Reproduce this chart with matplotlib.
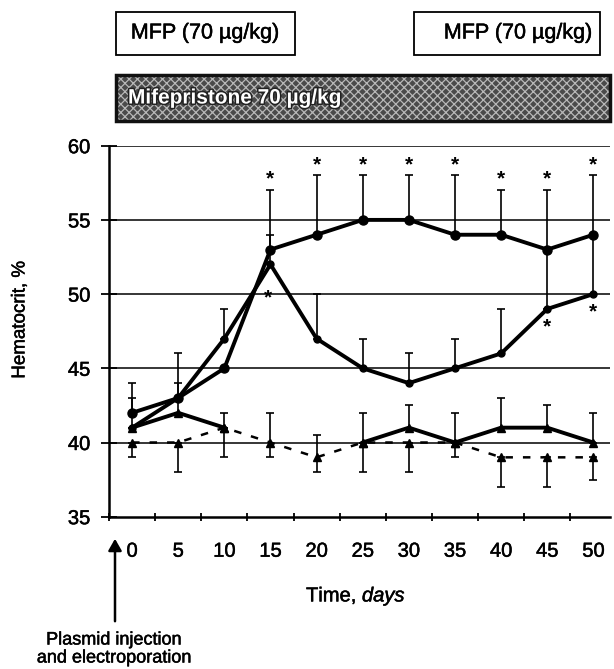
import numpy as np
import matplotlib
matplotlib.use("Agg")
import matplotlib.pyplot as plt
from matplotlib.patches import Rectangle, FancyArrowPatch
import matplotlib.patheffects as pe

plt.rcParams["font.family"] = ["Liberation Sans", "DejaVu Sans"]
plt.rcParams["mathtext.fontset"] = "custom"
plt.rcParams["mathtext.rm"] = "Liberation Sans"
plt.rcParams["mathtext.it"] = "Liberation Sans:italic"
plt.rcParams["hatch.linewidth"] = 0.9

# days after plasmid injection
days = [0, 5, 10, 15, 20, 25, 30, 35, 40, 45, 50]

# group A: MFP given at both periods (top curve)
hct_a = [42, 43, 45, 53, 54, 55, 55, 54, 54, 53, 54]
err_a = [2, 3, 0, 4, 4, 3, 3, 4, 3, 4, 4]
star_a = [False, False, False, True, True, True, True, True, True, True, True]

# group B: MFP first period only (peak then dip)
hct_b = [41, 43, 47, 52, 47, 45, 44, 45, 46, 49, 50]
err_b = [0, 0, 2, 2, 3, 2, 2, 2, 3, 4, 4]
star_b = [False, False, False, True, False, False, False, False, False, True, True]

# group C: solid control
hct_c = [41, 42, 41, np.nan, np.nan, 40, 41, 40, 41, 41, 40]
err_c = [2, 2, 1, 0, 0, 2, 1.5, 2, 2, 1.5, 2]

# group D: dashed control
hct_d = [40, 40, 41, 40, 39, 40, 40, 40, 39, 39, 39]
err_d_lo = [1, 2, 2, 1, 1, 2, 2, 1, 2, 2, 1.5]
err_d_hi = [0, 0, 0, 2, 1.5, 0, 0, 0, 0, 0, 0]

W, H = 614, 669
fig = plt.figure(figsize=(W / 100, H / 100), dpi=100)

def fx(px):
    return px / W

def fy(py):
    return 1 - py / H

# scanned-look text: a thin stroke thickens the glyphs a little
thick = [pe.withStroke(linewidth=0.35, foreground="black")]

ax = fig.add_axes([fx(109), fy(516.7), fx(610 - 109), (516.7 - 145.7) / H])
ax.set_xlim(-2.5, 51.8)
ax.set_ylim(35, 60)

zeros = [0] * len(days)
ebkw = dict(ecolor="black", elinewidth=1.2, capsize=3, capthick=1.2)

ax.errorbar(days, hct_d, yerr=[err_d_lo, err_d_hi], fmt="none", **ebkw)
ax.errorbar(days, hct_c, yerr=[zeros, err_c], fmt="none", **ebkw)
ax.errorbar(days, hct_b, yerr=[zeros, err_b], fmt="none", **ebkw)
ax.errorbar(days, hct_a, yerr=[zeros, err_a], fmt="none", **ebkw)

ax.plot(days, hct_d, color="black", lw=1.8, ls=(0, (3, 4)), marker="^", ms=6)
ax.plot(days, hct_c, color="black", lw=2.8, marker="^", ms=6)
ax.plot(days, hct_b, color="black", lw=2.8, marker="o", ms=5)
ax.plot(days, hct_a, color="black", lw=2.8, marker="o", ms=6.5)

for d, v, e, s in zip(days, hct_a, err_a, star_a):
    if s:
        ax.annotate("*", (d, v + e), xytext=(0, 1), textcoords="offset points",
                    ha="center", va="bottom", fontsize=15, fontweight="bold")
for d, v, s in zip(days, hct_b, star_b):
    if s:
        off = -17 if d == 15 else -6
        ax.annotate("*", (d, v), xytext=(-2 if d == 15 else 0, off), textcoords="offset points",
                    ha="center", va="top", fontsize=15, fontweight="bold")

# grid / axes styling
for v in [40, 45, 50, 55, 60]:
    ax.axhline(v, color="black", lw=1.1, zorder=0)
for s in ["top", "right"]:
    ax.spines[s].set_visible(False)
for s in ["left", "bottom"]:
    ax.spines[s].set_linewidth(1.8)

ax.set_yticks([35, 40, 45, 50, 55, 60])
ax.tick_params(axis="y", direction="inout", length=11, width=1.3, labelsize=14.5, pad=8)
ax.set_xticks(days)
ax.set_xticks(np.arange(-2.5, 50, 5), minor=True)
ax.tick_params(axis="x", which="major", length=0, labelsize=14.5, pad=18)
ax.tick_params(axis="x", which="minor", direction="inout", length=6, width=1.3)
for lab in ax.get_xticklabels() + ax.get_yticklabels():
    lab.set_path_effects(thick)

fig.text(fx(20), fy(320), "Hematocrit, %", rotation=90, ha="center", va="center",
         fontsize=13.5, path_effects=thick)
fig.text(fx(356), fy(596), r"Time, $\mathit{days}$", ha="center", va="center",
         fontsize=14.5, path_effects=thick)

# arrow for plasmid injection
fig.add_artist(FancyArrowPatch(
    (fx(115), fy(624)), (fx(115), fy(536)), transform=fig.transFigure,
    arrowstyle="-|>,head_length=7,head_width=4", color="black", lw=1.8))
fig.text(fx(114), fy(640), "Plasmid injection", ha="center", va="center",
         fontsize=13, path_effects=thick)
fig.text(fx(114), fy(658), "and electroporation", ha="center", va="center",
         fontsize=13, path_effects=thick)

# treatment boxes
for x0, x1 in [(116, 295), (414, 600)]:
    fig.add_artist(Rectangle((fx(x0), fy(55)), fx(x1 - x0), (55 - 12) / H,
                             transform=fig.transFigure, facecolor="white",
                             edgecolor="black", lw=1.3))
fig.text(fx(205), fy(33), "MFP (70 µg/kg)", ha="center", va="center", fontsize=15.5,
         path_effects=thick)
fig.text(fx(518), fy(33), "MFP (70 µg/kg)", ha="center", va="center", fontsize=15.5,
         path_effects=thick)

fig.add_artist(Rectangle((fx(116), fy(121)), fx(610 - 116), (121 - 75) / H,
                         transform=fig.transFigure, facecolor="#4a4a4a",
                         edgecolor="#b8b8b8", hatch="xxxx", lw=0))
fig.add_artist(Rectangle((fx(116), fy(121)), fx(610 - 116), (121 - 75) / H,
                         transform=fig.transFigure, facecolor="none",
                         edgecolor="#111111", lw=2.5))
fig.text(fx(128), fy(98), "Mifepristone 70 µg/kg", ha="left", va="center",
         fontsize=15, color="white", fontweight="bold",
         path_effects=[pe.withStroke(linewidth=2.2, foreground="#222222")])

fig.savefig("out.png", dpi=100)
